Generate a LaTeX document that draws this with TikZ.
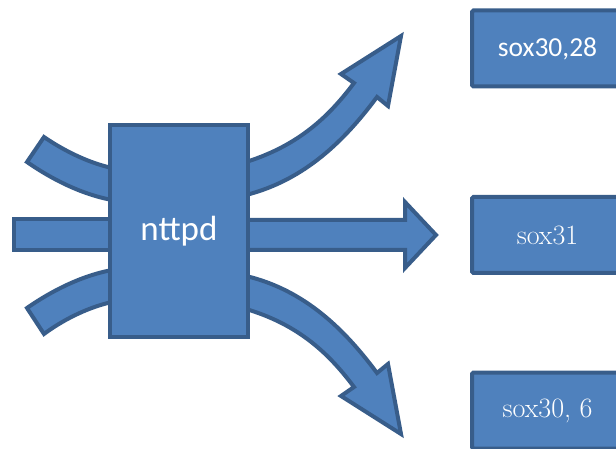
\documentclass[tikz,border=0pt]{standalone}
\usepackage{fontspec}
\newfontfamily\calibri{Carlito}
\definecolor{fillblue}{HTML}{4F81BD}
\definecolor{lineblue}{HTML}{385D8A}
\tikzset{
	blk/.style={fill=fillblue, draw=lineblue, line width=4pt, line join=miter},
	outbox/.style={blk, rounded corners=1.5pt, minimum width=151pt, minimum height=76pt, inner sep=0pt, text=white}
}
\begin{document}
\begin{tikzpicture}[x=1pt, y=-1pt]
	\useasboundingbox (0,0) rectangle (616,449);
	%bands coming in from the left
	\draw[blk] (44,137) .. controls (60,148) and (85,162) .. (112,168) -- (112,200)
		.. controls (80,194) and (50,178) .. (27,162) -- cycle;
	\draw[blk] (14,219) rectangle (112,250);
	\draw[blk] (44,334) .. controls (60,322) and (85,308) .. (112,302) -- (112,270)
		.. controls (80,276) and (50,292) .. (27,308) -- cycle;
	%arrows going out to the right
	\draw[blk] (246,162) .. controls (300,145) and (330,115) .. (354,83) -- (341,74) -- (401,36)
		-- (388,106) -- (377,97) .. controls (345,140) and (305,180) .. (246,195) -- cycle;
	\draw[blk] (246,220) -- (405,220) -- (405,202) -- (436,235) -- (405,268) -- (405,250) -- (246,250) -- cycle;
	\draw[blk] (246,309) .. controls (300,325) and (330,355) .. (354,387) -- (341,396) -- (401,434)
		-- (388,364) -- (377,373) .. controls (345,330) and (305,290) .. (246,276) -- cycle;
	%boxes
	\node[blk, minimum width=138pt, minimum height=212pt, inner sep=0pt, text=white,
		font=\calibri\fontsize{35}{40}\selectfont] (core) at (179,231) {nttpd};
	\node[outbox, font=\calibri\fontsize{27.5}{32}\selectfont] (outA) at (547.5,48.5) {sox30,28};
	\node[outbox, font=\fontsize{28}{32}\selectfont] (outB) at (547.5,235) {sox31};
	\node[outbox, font=\fontsize{28}{32}\selectfont] (outC) at (547.5,410.5) {sox30, 6};
\end{tikzpicture}
\end{document}
